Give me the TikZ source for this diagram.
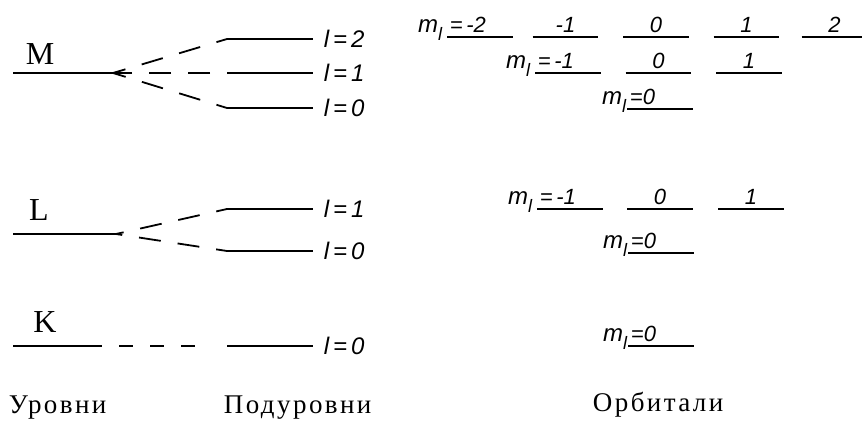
\documentclass[tikz,border=0pt]{standalone}
\usepackage{fontspec}
\setmainfont{Liberation Serif}
\newfontfamily\capfont[LetterSpace=9]{Liberation Serif}
\newfontfamily\qnfont{Liberation Sans}
\usetikzlibrary{positioning}

\begin{document}
\begin{tikzpicture}[
        x=0.5pt, y=-0.5pt,
        line width=0.9pt,
        shell/.style={
            font=\fontsize{16}{16}\selectfont,
            inner sep=0pt
        },
        qn/.style={
            font=\qnfont\itshape\fontsize{12}{12}\selectfont,
            inner sep=0pt
        },
        fan/.style={dash pattern=on 11pt off 8.5pt, dash phase=5.5pt},
        fanmid/.style={dash pattern=on 11pt off 8.5pt, dash phase=11pt},
        kfan/.style={dash pattern=on 7pt off 8.5pt, dash phase=7pt, shorten >=16pt},
        orb/.style={
            font=\qnfont\itshape\fontsize{11}{11}\selectfont,
            anchor=south,
            text width=30pt,
            align=center,
            inner xsep=1pt,
            inner ysep=2pt,
            text depth=0pt
        },
        orbfirst/.style={orb, anchor=south west, align=left},
        ml/.style={
            font=\qnfont\itshape\fontsize{12}{12}\selectfont,
            anchor=base east,
            inner xsep=2pt,
            inner ysep=0pt
        },
        caption/.style={
            font=\capfont\fontsize{13.5}{13.5}\selectfont,
            anchor=base west,
            inner sep=0pt
        }
    ]

    \useasboundingbox (0,0) rectangle (862,423);

    \coordinate (Mw) at (13,73);
    \coordinate (Me) at (113,73);
    \coordinate (Lw) at (13,234);
    \coordinate (Le) at (116,234);
    \coordinate (Kw) at (13,346);
    \coordinate (Ke) at (102,346);

    \coordinate (M2w) at (227,39);
    \coordinate (M2e) at (313,39);
    \coordinate (M1w) at (227,73);
    \coordinate (M1e) at (313,73);
    \coordinate (M0w) at (227,108);
    \coordinate (M0e) at (313,108);
    \coordinate (L1w) at (227,209);
    \coordinate (L1e) at (313,209);
    \coordinate (L0w) at (227,251);
    \coordinate (L0e) at (313,251);
    \coordinate (K0w) at (227,346);
    \coordinate (K0e) at (313,346);

    \node[shell] (M) at (40,54) {M};
    \node[shell] (L) at (39,210) {L};
    \node[shell] (K) at (45,322) {K};

    \draw (Mw) -- (Me);
    \draw (Lw) -- (Le);
    \draw (Kw) -- (Ke);

    \draw (M2w) -- (M2e);
    \draw (M1w) -- (M1e);
    \draw (M0w) -- (M0e);
    \draw (L1w) -- (L1e);
    \draw (L0w) -- (L0e);
    \draw (K0w) -- (K0e);

    \draw[fan] (M2w) -- (Me);
    \draw[fanmid] (M1w) -- (Me);
    \draw[fan] (M0w) -- (Me);
    \draw[fan] (L1w) -- (Le);
    \draw[fan] (L0w) -- (Le);
    \draw[kfan] (Ke) -- (K0w);

    \node[qn, right=5pt of M2e] (lM2) {l\,=\,2};
    \node[qn, right=5pt of M1e] (lM1) {l\,=\,1};
    \node[qn, right=5pt of M0e] (lM0) {l\,=\,0};
    \node[qn, right=5pt of L1e] (lL1) {l\,=\,1};
    \node[qn, right=5pt of L0e] (lL0) {l\,=\,0};
    \node[qn, right=5pt of K0e] (lK0) {l\,=\,0};

    \node[orbfirst] (oM2-m2) at (447,37) {=\,-2};
    \node[orb] (oM2-m1) at (565.5,37) {-1};
    \node[orb] (oM2-0) at (656,37) {0};
    \node[orb] (oM2-p1) at (746.5,37) {1};
    \node[orb] (oM2-p2) at (834.5,37) {2};
    \node[ml] (mlM2) at (oM2-m2.base west) {m\raisebox{-4pt}{\fontsize{9}{9}\selectfont l}};

    \node[orbfirst] (oM1-m1) at (535,73) {=\,-1};
    \node[orb] (oM1-0) at (658.5,73) {0};
    \node[orb] (oM1-p1) at (749,73) {1};
    \node[ml] (mlM1) at (oM1-m1.base west) {m\raisebox{-4pt}{\fontsize{9}{9}\selectfont l}};

    \node[orbfirst] (oM0-0) at (627,109) {=0};
    \node[ml, inner xsep=0pt] (mlM0) at (oM0-0.base west) {m\raisebox{-4pt}{\fontsize{9}{9}\selectfont l}};

    \node[orbfirst] (oL1-m1) at (537,209) {=\,-1};
    \node[orb] (oL1-0) at (660,209) {0};
    \node[orb] (oL1-p1) at (751,209) {1};
    \node[ml] (mlL1) at (oL1-m1.base west) {m\raisebox{-4pt}{\fontsize{9}{9}\selectfont l}};

    \node[orbfirst] (oL0-0) at (628,253) {=0};
    \node[ml, inner xsep=0pt] (mlL0) at (oL0-0.base west) {m\raisebox{-4pt}{\fontsize{9}{9}\selectfont l}};

    \node[orbfirst] (oK0-0) at (628,346) {=0};
    \node[ml, inner xsep=0pt] (mlK0) at (oK0-0.base west) {m\raisebox{-4pt}{\fontsize{9}{9}\selectfont l}};

    \draw (oM2-m2.south west) -- (oM2-m2.south east);
    \draw (oM2-m1.south west) -- (oM2-m1.south east);
    \draw (oM2-0.south west) -- (oM2-0.south east);
    \draw (oM2-p1.south west) -- (oM2-p1.south east);
    \draw (oM2-p2.south west) -- (oM2-p2.south east);
    \draw (oM1-m1.south west) -- (oM1-m1.south east);
    \draw (oM1-0.south west) -- (oM1-0.south east);
    \draw (oM1-p1.south west) -- (oM1-p1.south east);
    \draw (oM0-0.south west) -- (oM0-0.south east);
    \draw (oL1-m1.south west) -- (oL1-m1.south east);
    \draw (oL1-0.south west) -- (oL1-0.south east);
    \draw (oL1-p1.south west) -- (oL1-p1.south east);
    \draw (oL0-0.south west) -- (oL0-0.south east);
    \draw (oK0-0.south west) -- (oK0-0.south east);

    \node[caption] (levels) at (8,413) {Уровни};
    \node[caption] (sublevels) at (223,413) {Подуровни};
    \node[caption] (orbitals) at (592,411) {Орбитали};

    \end{tikzpicture}
\end{document}
